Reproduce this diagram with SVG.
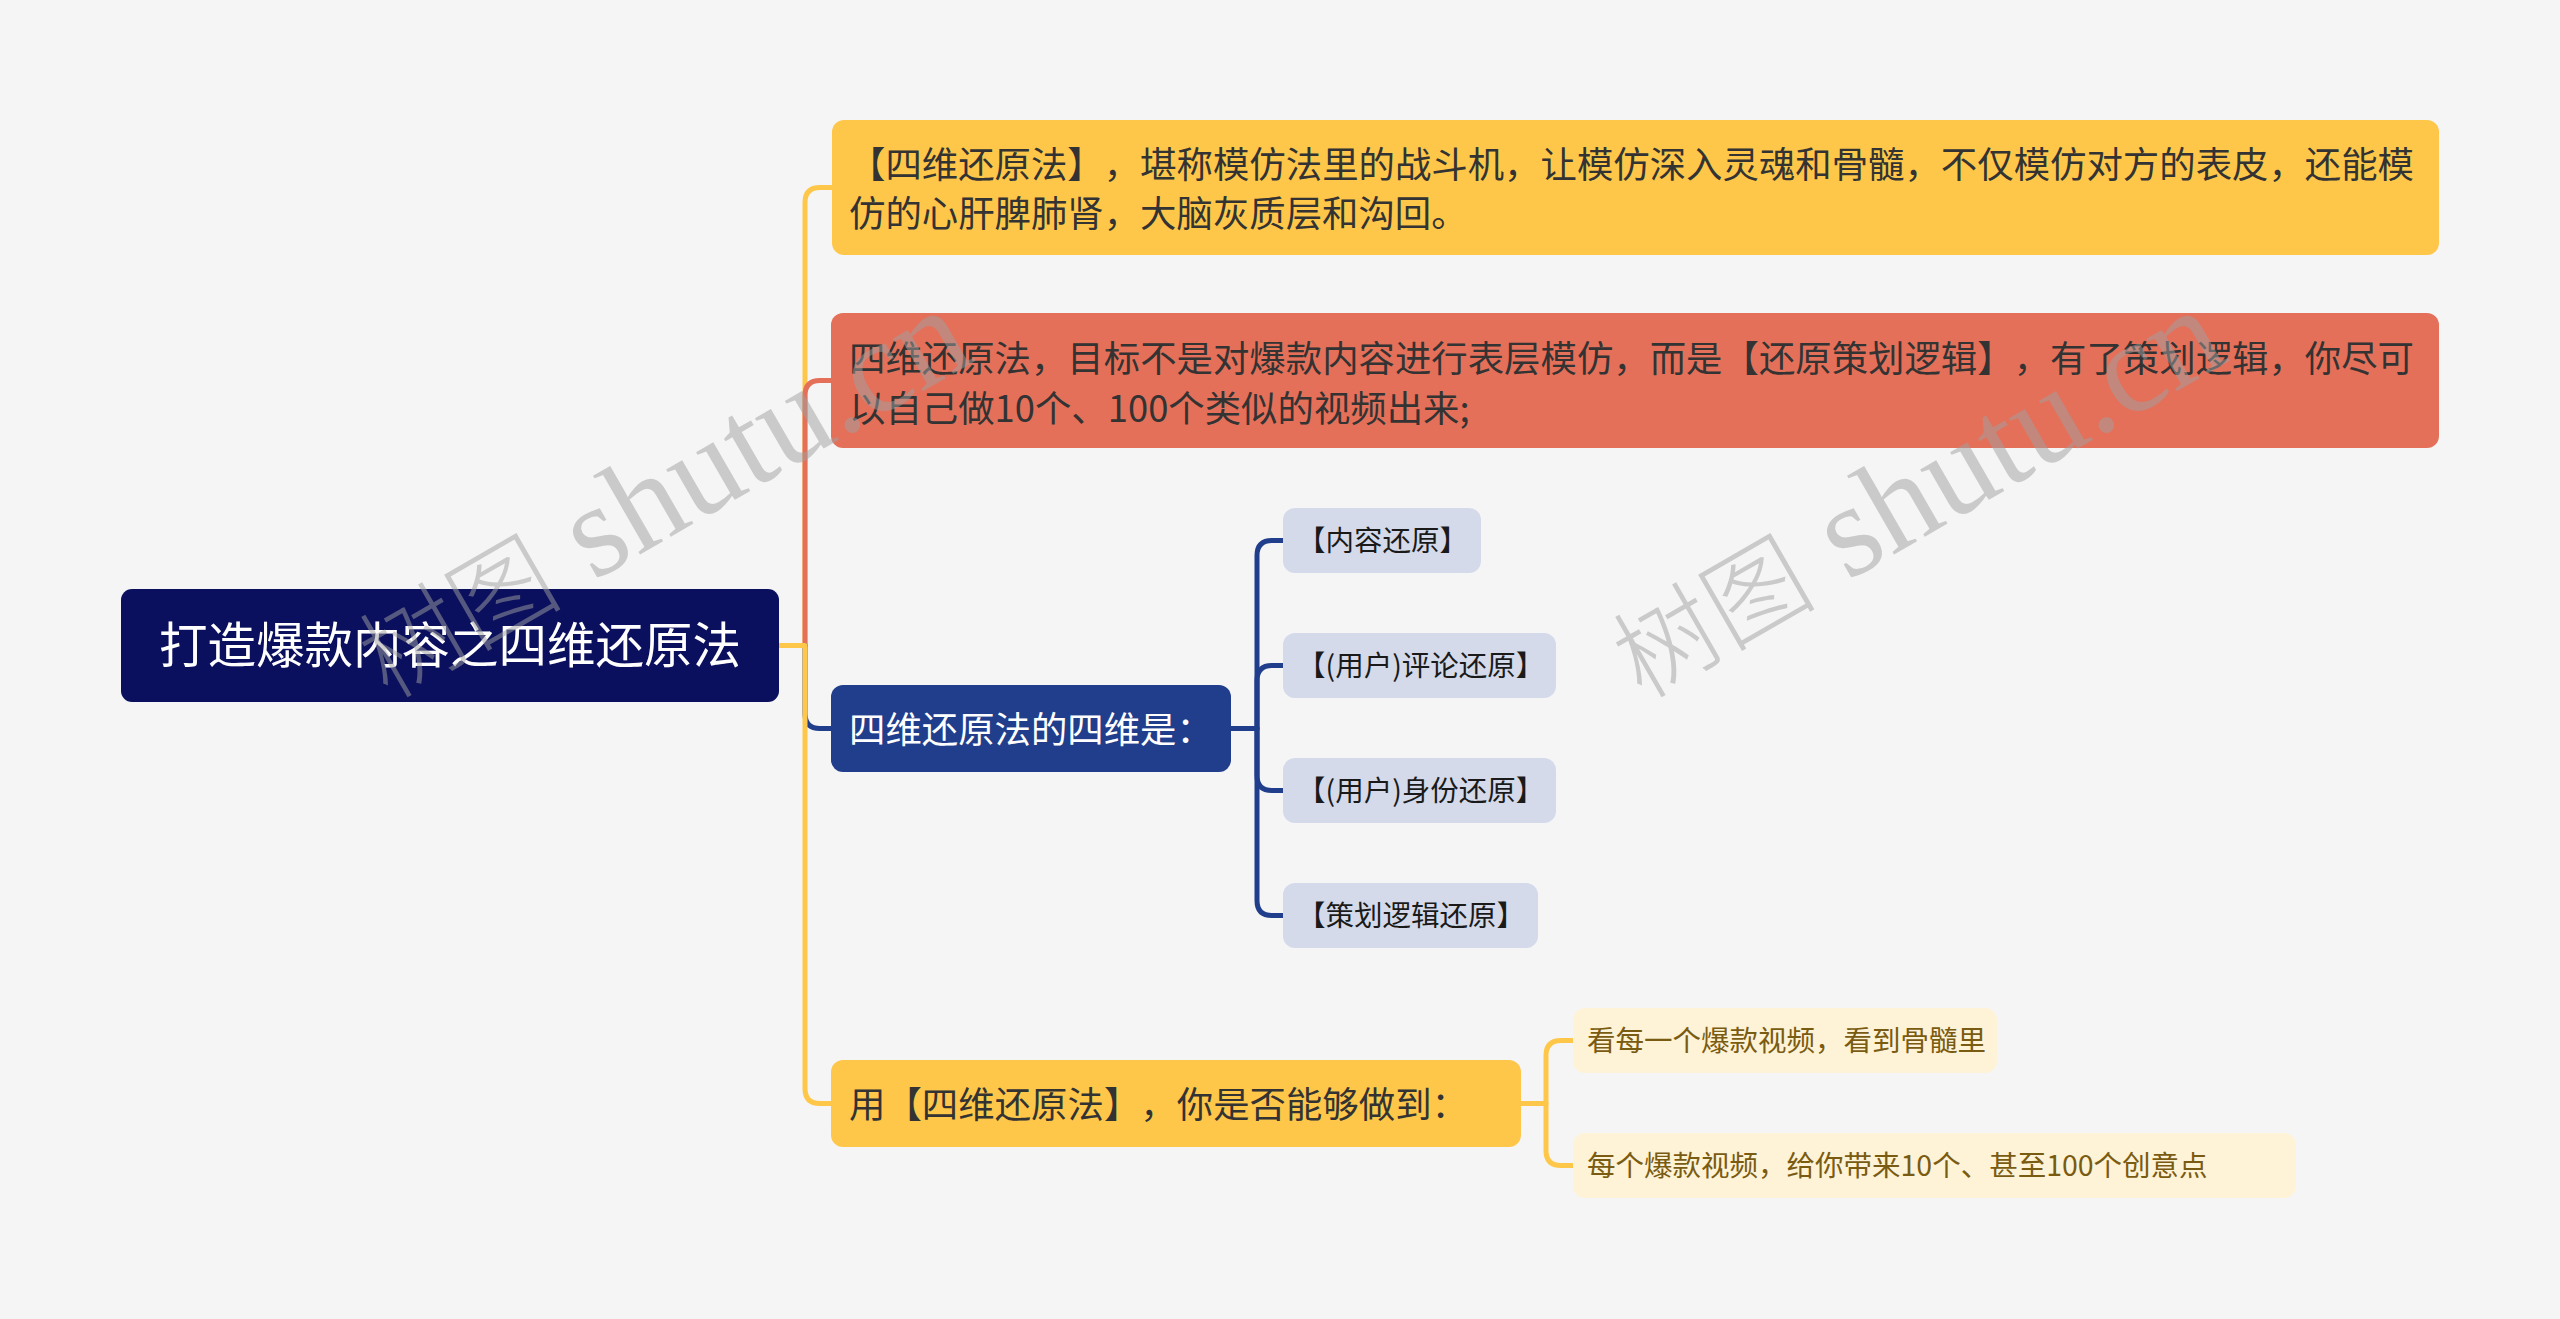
<svg xmlns="http://www.w3.org/2000/svg" width="2560" height="1319" viewBox="0 0 2560 1319">
<style>
text{font-family:"Noto Sans CJK SC","Noto Sans",sans-serif;text-spacing-trim:space-all}
.ln{fill:none;stroke-width:5;stroke-linejoin:round}
.y{stroke:#fec74a}
.r{stroke:#e5705a}
.b{stroke:#203e8c}
.t36{font-size:36.4px}
.t28{font-size:28.5px}
.dark{fill:#333333}
.lav{fill:#d4daea}
.cream{fill:#fef3d6}
.wm{font-family:"Liberation Serif","Noto Sans CJK SC",serif;font-size:132px;fill:#a0a0a0;fill-opacity:0.5}
.wmc{font-family:"Noto Sans CJK SC",serif;font-size:102px;font-weight:300}
</style>
<rect x="0" y="0" width="2560" height="1319" fill="#f5f5f5"/>
<g id="connectors">
<path class="ln y" d="M779 645.5H805V202.5Q805 187.5 820 187.5H832"/>
<path class="ln r" d="M779 645.5H805V395.5Q805 380.5 820 380.5H832"/>
<path class="ln b" d="M779 645.5H805V713.5Q805 728.5 820 728.5H832"/>
<path class="ln y" d="M779 645.5H805V1088.5Q805 1103.5 820 1103.5H832"/>
<path class="ln b" d="M1231 728.5H1257V555.5Q1257 540.5 1272 540.5H1284"/>
<path class="ln b" d="M1231 728.5H1257V680.5Q1257 665.5 1272 665.5H1284"/>
<path class="ln b" d="M1231 728.5H1257V775.5Q1257 790.5 1272 790.5H1284"/>
<path class="ln b" d="M1231 728.5H1257V900.5Q1257 915.5 1272 915.5H1284"/>
<path class="ln y" d="M1521 1103.5H1546V1055.5Q1546 1040.5 1561 1040.5H1574"/>
<path class="ln y" d="M1521 1103.5H1546V1150.5Q1546 1165.5 1561 1165.5H1574"/>
</g>
<g id="root">
<rect x="121" y="589" width="658" height="113" rx="11" fill="#0b105e"/>
<text x="450" y="662.5" text-anchor="middle" font-size="48.5" fill="#ffffff">打造爆款内容之四维还原法</text>
</g>
<g id="node1">
<rect x="832" y="120" width="1607" height="135" rx="12" fill="#fec74a"/>
<text class="t36 dark" x="849" y="178" textLength="1565" lengthAdjust="spacing">【四维还原法】，堪称模仿法里的战斗机，让模仿深入灵魂和骨髓，不仅模仿对方的表皮，还能模</text>
<text class="t36 dark" x="849" y="227">仿的心肝脾肺肾，大脑灰质层和沟回。</text>
</g>
<g id="node2">
<rect x="831" y="313" width="1608" height="135" rx="12" fill="#e5705a"/>
<text class="t36 dark" x="849" y="372" textLength="1565" lengthAdjust="spacing">四维还原法，目标不是对爆款内容进行表层模仿，而是【还原策划逻辑】，有了策划逻辑，你尽可</text>
<text class="t36 dark" x="849" y="422">以自己做10个、100个类似的视频出来;</text>
</g>
<g id="node3">
<rect x="831" y="685" width="400" height="87" rx="12" fill="#203e8c"/>
<text class="t36" x="849" y="743" fill="#ffffff">四维还原法的四维是：</text>
</g>
<g id="node3-1">
<rect class="lav" x="1283" y="508" width="198" height="65" rx="12"/>
<text class="t28" x="1297" y="551" fill="#1a1a1a">【内容还原】</text>
</g>
<g id="node3-2">
<rect class="lav" x="1283" y="633" width="273" height="65" rx="12"/>
<text class="t28" x="1297" y="676" fill="#1a1a1a">【(用户)评论还原】</text>
</g>
<g id="node3-3">
<rect class="lav" x="1283" y="758" width="273" height="65" rx="12"/>
<text class="t28" x="1297" y="801" fill="#1a1a1a">【(用户)身份还原】</text>
</g>
<g id="node3-4">
<rect class="lav" x="1283" y="883" width="255" height="65" rx="12"/>
<text class="t28" x="1297" y="926" fill="#1a1a1a">【策划逻辑还原】</text>
</g>
<g id="node4">
<rect x="831" y="1060" width="690" height="87" rx="12" fill="#fec74a"/>
<text class="t36 dark" x="849" y="1118" textLength="619" lengthAdjust="spacing">用【四维还原法】，你是否能够做到：</text>
</g>
<g id="node4-1">
<rect class="cream" x="1573" y="1008" width="424" height="65" rx="12"/>
<text class="t28" x="1587" y="1051" fill="#7a5b12">看每一个爆款视频，看到骨髓里</text>
</g>
<g id="node4-2">
<rect class="cream" x="1573" y="1133" width="723" height="65" rx="12"/>
<text class="t28" x="1587" y="1176" fill="#7a5b12">每个爆款视频，给你带来10个、甚至100个创意点</text>
</g>
<g id="watermarks">
<text class="wm" x="388" y="700" transform="rotate(-30 388 700)"><tspan class="wmc">树图</tspan> shutu.cn</text>
<text class="wm" x="1642" y="700" transform="rotate(-30 1642 700)"><tspan class="wmc">树图</tspan> shutu.cn</text>
</g>
</svg>
